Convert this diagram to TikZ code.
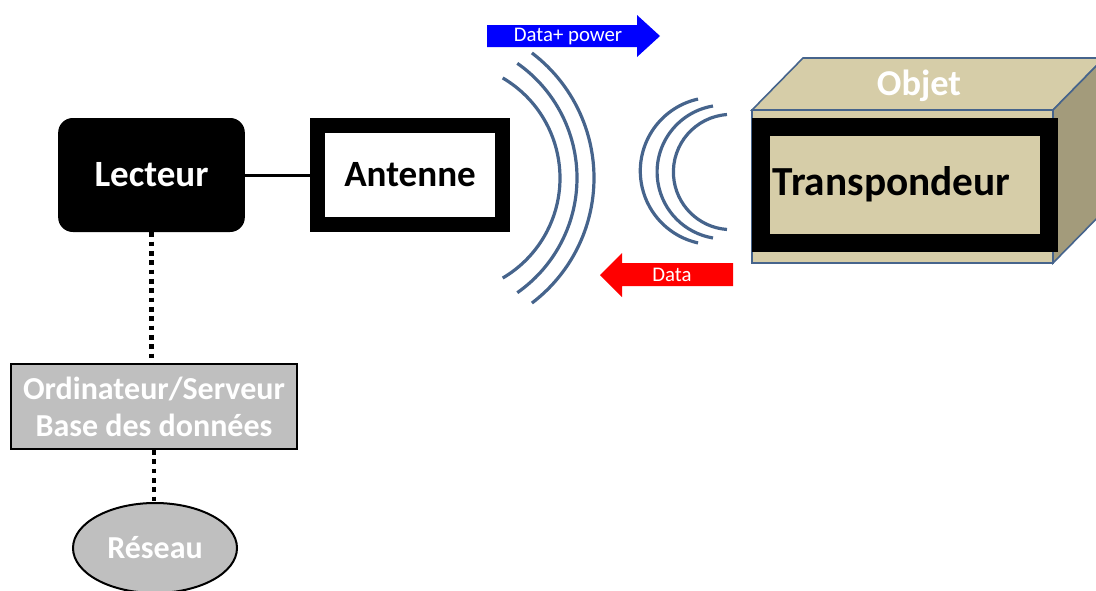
\documentclass[tikz,border=0pt]{standalone}
\usepackage{fontspec}
\setmainfont{Carlito}
\usepackage{xcolor}
\usetikzlibrary{shapes.geometric}

\definecolor{wavecol}{RGB}{70,100,140}
\definecolor{boxtan}{RGB}{214,205,168}
\definecolor{boxside}{RGB}{163,155,123}
\definecolor{gris}{RGB}{191,191,191}

\begin{document}
\begin{tikzpicture}[x=0.75pt,y=-0.75pt,
		wave/.style={wavecol,line width=2.4pt},
		dots/.style={line width=3.6pt,dash pattern=on 3.6pt off 3.4pt},
		bigtxt/.style={font=\fontsize{27.8pt}{30pt}\selectfont\bfseries},
		midtxt/.style={font=\fontsize{24pt}{27.8pt}\selectfont\bfseries},
		fleche/.style={font=\fontsize{15.6pt}{17pt}\selectfont,text=white}]
			\clip (0,0) rectangle (1096,590);
			% lecteur et antenne
			\node[fill=black,rounded corners=11pt,minimum width=140pt,minimum height=85.5pt,text=white,bigtxt] (lecteur) at (151.5,175) {Lecteur};
			\node[draw=black,line width=11.25pt,minimum width=138.75pt,minimum height=74.25pt,bigtxt] (antenne) at (410,175) {Antenne};
			\draw[line width=2.25pt] (lecteur.east) -- (antenne.west);
			% ordinateur et reseau
			\node[draw=black,fill=gris,line width=1.5pt,minimum width=214pt,minimum height=63.75pt,inner sep=1pt,text=white,align=center,midtxt] (ordi) at (154,406.5) {Ordinateur/Serveur\\Base des données};
			\node[ellipse,draw=black,fill=gris,line width=1.5pt,minimum width=123pt,minimum height=67.5pt,inner sep=1pt,text=white,midtxt] (reseau) at (155,548) {Réseau};
			\draw[dots] (lecteur.south) -- (lecteur.south |- ordi.north);
			\draw[dots] (ordi.south) -- (ordi.south |- reseau.north);
			% ondes
			\draw[wave] (444,178) ++(-59.6:116) arc[start angle=-59.6,end angle=59.6,radius=116];
			\draw[wave] (437,178) ++(-55:140) arc[start angle=-55,end angle=55,radius=140];
			\draw[wave] (437,178) ++(-52.8:157) arc[start angle=-52.8,end angle=52.8,radius=157];
			\draw[wave] (714,171) ++(-102.5:73.7) arc[start angle=-102.5,end angle=-257.5,radius=73.7];
			\draw[wave] (724,172) ++(-99.5:66.9) arc[start angle=-99.5,end angle=-260.5,radius=66.9];
			\draw[wave] (731,172) ++(-94:57.6) arc[start angle=-94,end angle=-266,radius=57.6];
			% fleches
			\fill[blue] (487,25) -- (637,25) -- (637,15) -- (660,36) -- (637,57) -- (637,47) -- (487,47) -- cycle;
			\node[fleche] (power) at (568,36) {Data+ power};
			\fill[red] (733,263) -- (622,263) -- (622,253) -- (600,275) -- (622,297) -- (622,286) -- (733,286) -- cycle;
			\node[fleche] (data) at (672,275) {Data};
			% objet
			\filldraw[fill=boxtan,draw=wavecol,line width=1.2pt] (752,110) -- (803,58) -- (1104,58) -- (1053,110) -- cycle;
			\filldraw[fill=boxside,draw=wavecol,line width=1.2pt] (1053,110) -- (1104,58) -- (1104,211) -- (1053,263) -- cycle;
			\filldraw[fill=boxtan,draw=wavecol,line width=1.2pt] (752,110) rectangle (1053,263);
			\node[text=white,font=\fontsize{27.3pt}{30pt}\selectfont\bfseries] (objet) at (919,86) {Objet};
			\node[draw=black,fill=boxtan,line width=13.5pt,minimum width=216pt,minimum height=87pt,inner sep=1pt,font=\fontsize{31pt}{34pt}\selectfont\bfseries] (transpondeur) at (905,184.5) {Transpondeur\hspace*{20pt}};
		\end{tikzpicture}
\end{document}
